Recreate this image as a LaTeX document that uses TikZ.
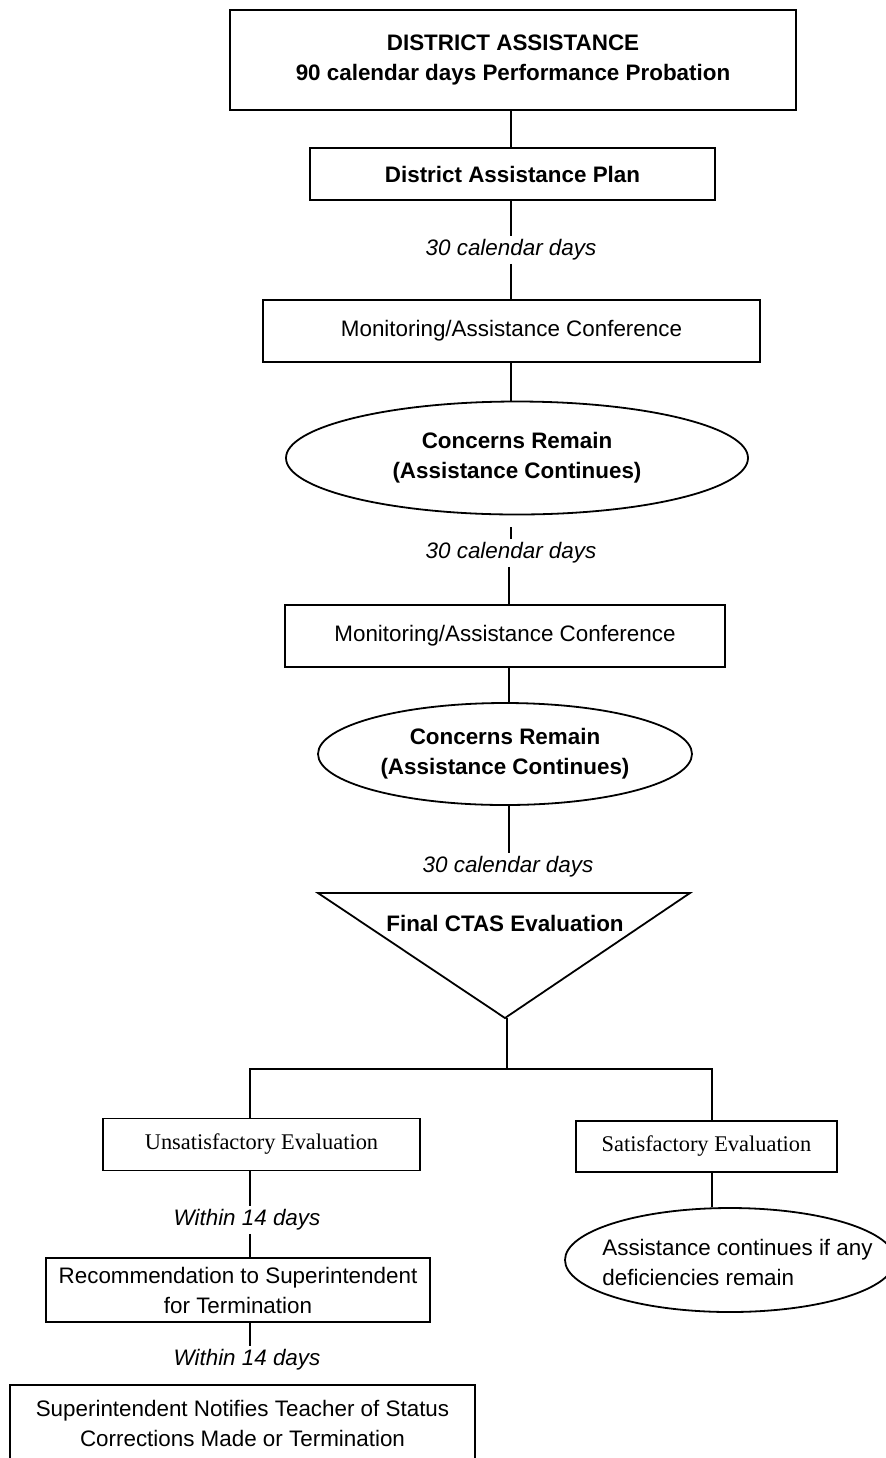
\documentclass[tikz,border=0pt]{standalone}
\usepackage{fontspec}
\setmainfont{Liberation Sans}
\newfontfamily\timesfont{Liberation Serif}
\usetikzlibrary{shapes.geometric}
\begin{document}
\begin{tikzpicture}[x=0.5pt,y=-0.5pt,
  every node/.style={font=\fontsize{11.2pt}{15pt}\selectfont},
  box/.style={draw, line width=0.9pt, rectangle, inner sep=0pt, align=center},
  bbox/.style={box, font=\fontsize{11.2pt}{15pt}\selectfont\bfseries},
  tbox/.style={box, font=\fontsize{11.2pt}{15pt}\selectfont\timesfont},
  oval/.style={draw, line width=0.9pt, ellipse, inner sep=0pt, align=center,
    font=\fontsize{11.2pt}{15pt}\selectfont\bfseries},
  lbl/.style={font=\fontsize{11.2pt}{15pt}\selectfont\itshape, inner sep=1.5pt},
  conn/.style={line width=0.9pt}]
\clip (0,0) rectangle (886,1458);
% columns
\coordinate (xm) at (511,0);
\coordinate (xm2) at (509,0);
% nodes
\node[bbox, minimum width=283pt, minimum height=50pt] (top) at (513,60)
  {DISTRICT ASSISTANCE\\90 calendar days Performance Probation};
\node[bbox, minimum width=202.5pt, minimum height=26pt] (plan) at (512.5,174)
  {District Assistance Plan};
\node[lbl] (lab1) at (511,250) {30 calendar days};
\node[box, minimum width=248.5pt, minimum height=31pt] (mon1) at (511.5,331)
  {Monitoring/Assistance Conference};
\node[oval, minimum width=231pt, minimum height=56.5pt] (e1) at (517,458)
  {Concerns Remain\\(Assistance Continues)};
\coordinate (c1) at (511,527);
\node[lbl] (lab2) at (511,553) {30 calendar days};
\node[box, minimum width=220pt, minimum height=31pt] (mon2) at (505,636)
  {Monitoring/Assistance Conference};
\node[oval, minimum width=187pt, minimum height=51pt] (e2) at (505,754)
  {Concerns Remain\\(Assistance Continues)};
\node[lbl] (lab3) at (508,867) {30 calendar days};
% triangle
\coordinate (tl) at (318,893);
\coordinate (tr) at (690,893);
\coordinate (tb) at (505,1018);
\draw[conn] (tl) -- (tr) -- (tb) -- cycle;
\node[font=\fontsize{11.2pt}{15pt}\selectfont\bfseries] (tri) at (505,923) {Final CTAS Evaluation};
% branch
\coordinate (jn) at (507,1069);
\coordinate (xl) at (250,1069);
\coordinate (xr) at (712,1069);
\node[tbox, minimum width=158.5pt, minimum height=26pt] (unsat) at (261.5,1144.5)
  {Unsatisfactory Evaluation};
\node[tbox, minimum width=130.5pt, minimum height=25.5pt] (sat) at (706.5,1146.5)
  {Satisfactory Evaluation};
\node[draw, line width=0.9pt, ellipse, inner sep=0pt, minimum width=165pt, minimum height=52pt] (e3) at (730,1260) {};
\node[anchor=west, align=left, inner sep=0pt] (e3t) at (602,1262)
  {Assistance continues if any\\deficiencies remain};
\node[lbl] (lab4) at (247,1220) {Within 14 days};
\node[box, minimum width=192pt, minimum height=32pt] (rec) at (238,1290)
  {Recommendation to Superintendent\\for Termination};
\node[lbl] (lab5) at (247,1360) {Within 14 days};
\node[box, minimum width=232.5pt, minimum height=38.5pt] (bot) at (242.5,1423.5)
  {Superintendent Notifies Teacher of Status\\Corrections Made or Termination};
% connectors
\draw[conn] (top.south -| xm) -- (plan.north -| xm);
\draw[conn] (plan.south -| xm) -- (lab1.north -| xm);
\draw[conn] (lab1.south -| xm) -- (mon1.north -| xm);
\draw[conn] (mon1.south -| xm) -- (e1.north -| xm);
\draw[conn] (c1) -- (lab2.north -| c1);
\draw[conn] (lab2.south -| xm2) -- (mon2.north -| xm2);
\draw[conn] (mon2.south -| xm2) -- (e2.north -| xm2);
\draw[conn] (e2.south -| xm2) -- (lab3.north -| xm2);
\draw[conn] (jn |- tb) -- (jn);
\draw[conn] (unsat.north -| xl) -- (xl) -- (xr) -- (sat.north -| xr);
\draw[conn] (sat.south -| xr) -- (e3.north -| xr);
\draw[conn] (unsat.south -| xl) -- (lab4.north -| xl);
\draw[conn] (lab4.south -| xl) -- (rec.north -| xl);
\draw[conn] (rec.south -| xl) -- (lab5.north -| xl);
\end{tikzpicture}
\end{document}
